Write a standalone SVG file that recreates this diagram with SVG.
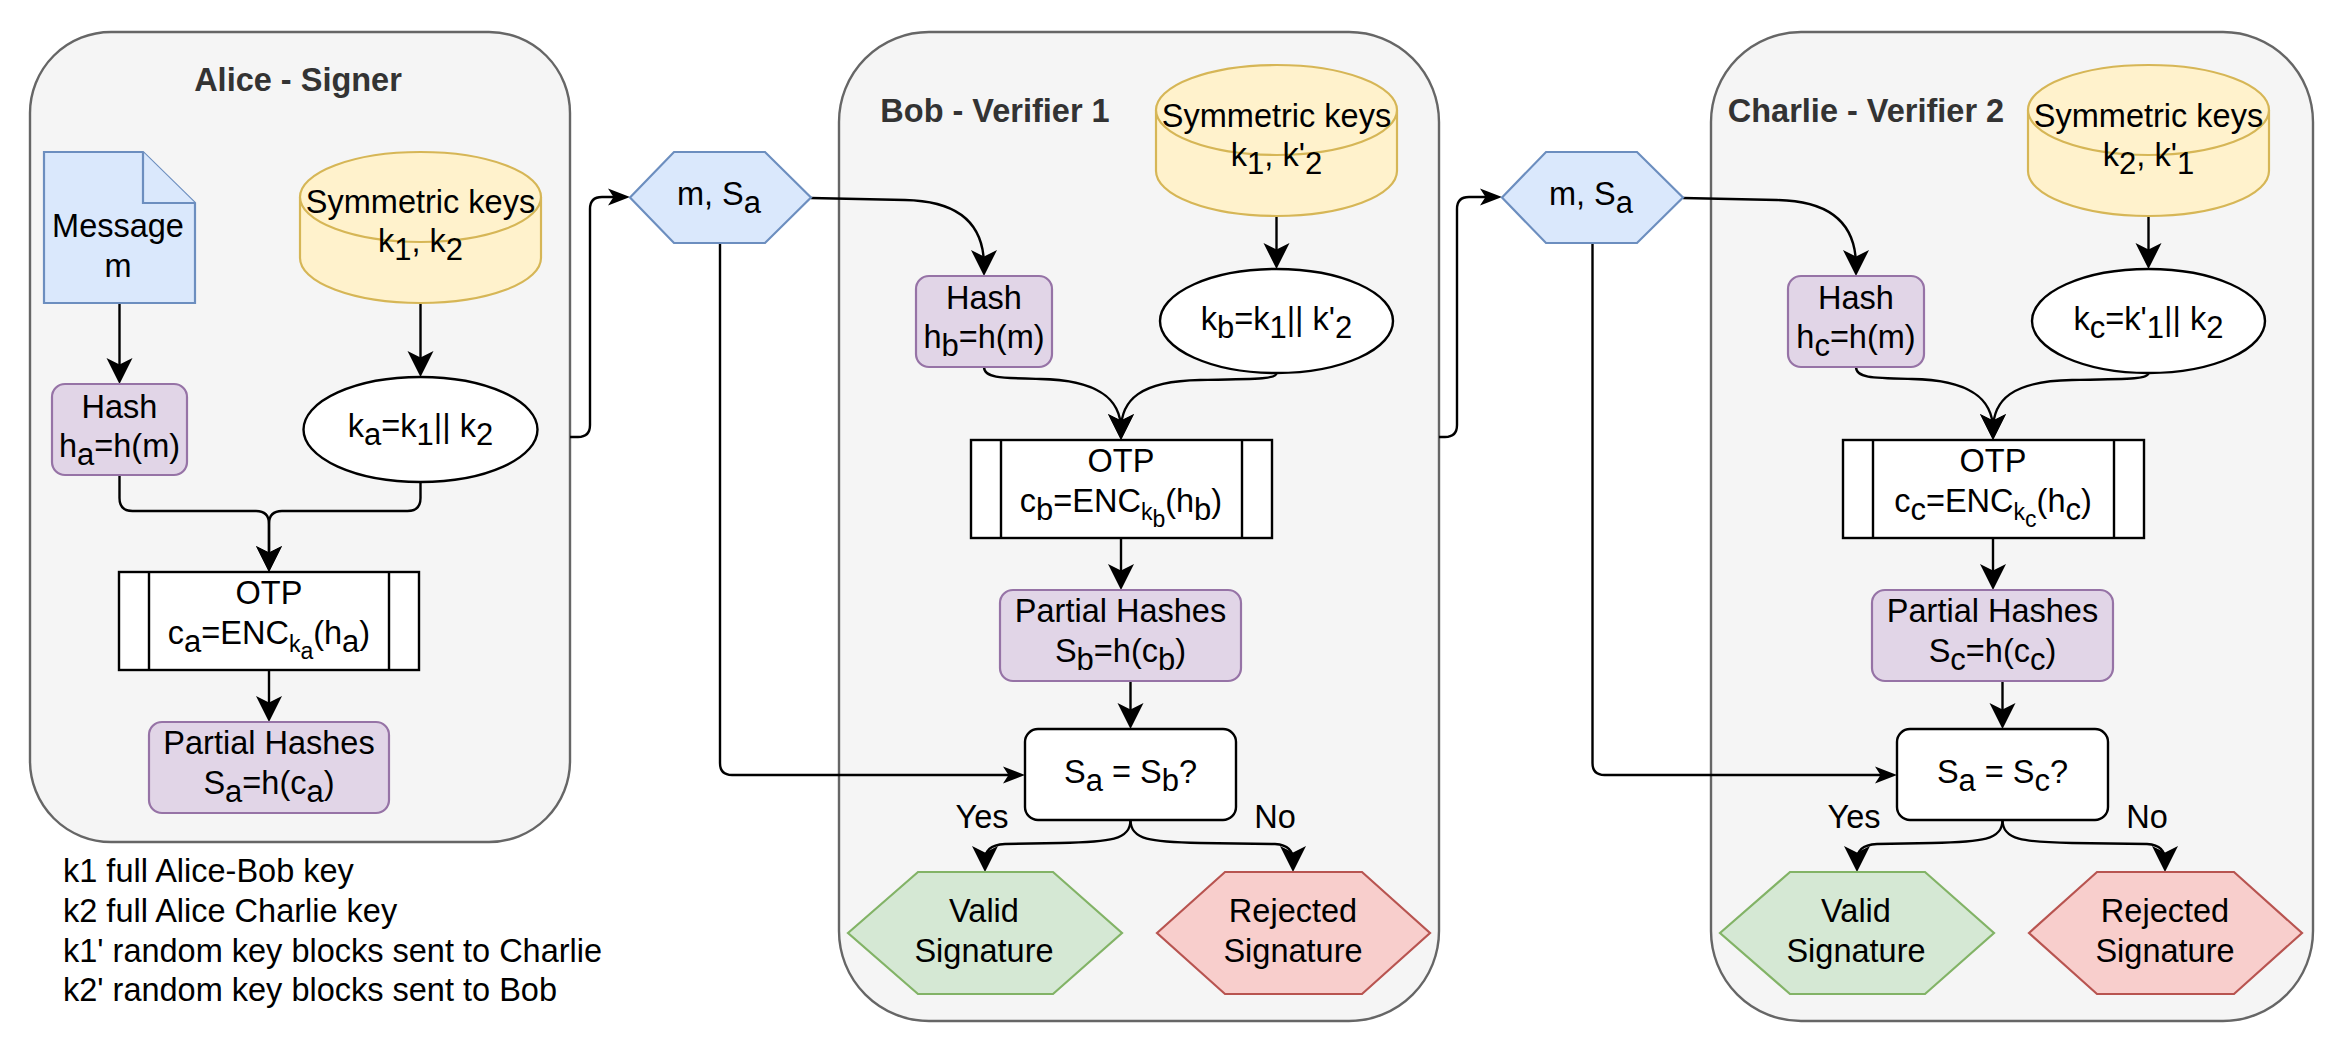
<svg xmlns="http://www.w3.org/2000/svg" width="2328" height="1044" viewBox="0 0 2328 1044">
<style>
text{font-family:"Liberation Sans",Arial,Helvetica,sans-serif;font-size:32.5px;fill:#000;text-anchor:middle}
.title{font-weight:bold;fill:#333333}
.lg{text-anchor:start}
.s{font-size:31px}
.ss{font-size:23px}
.cont{fill:#f5f5f5;stroke:#666666;stroke-width:2.4}
.blue{fill:#dae8fc;stroke:#6c8ebf;stroke-width:2.2}
.yel{fill:#fff2cc;stroke:#d6b656;stroke-width:2.2}
.pur{fill:#e1d5e7;stroke:#9673a6;stroke-width:2.2}
.wht{fill:#ffffff;stroke:#000000;stroke-width:2.4}
.grn{fill:#d5e8d4;stroke:#82b366;stroke-width:2.2}
.red{fill:#f8cecc;stroke:#b85450;stroke-width:2.2}
.e{fill:none;stroke:#000;stroke-width:2.4}
.big{marker-end:url(#ab)}
.sm{marker-end:url(#as)}
</style>
<defs>
<marker id="ab" markerUnits="userSpaceOnUse" markerWidth="40" markerHeight="40" refX="-10" refY="0" orient="auto" overflow="visible"><path d="M0,0 L-26,-13 L-19.5,0 L-26,13 Z" fill="#000"/></marker>
<marker id="as" markerUnits="userSpaceOnUse" markerWidth="40" markerHeight="40" refX="-8" refY="0" orient="auto" overflow="visible"><path d="M0,0 L-22,-8.5 L-16.5,0 L-22,8.5 Z" fill="#000"/></marker>
</defs>

<g id="alice-container">
<rect class="cont" x="30" y="32" width="540" height="810" rx="81" ry="81"/>
<text class="title" x="298" y="91">Alice - Signer</text>
</g>
<g id="bob-container">
<rect class="cont" x="839" y="32" width="600" height="989" rx="90" ry="90"/>
<text class="title" x="995" y="122">Bob - Verifier 1</text>
</g>
<g id="charlie-container">
<rect class="cont" x="1711" y="32" width="602" height="989" rx="90" ry="90"/>
<text class="title" x="1866" y="122">Charlie - Verifier 2</text>
</g>

<g id="connectors">
<path class="e big" d="M119.5,303 L119.5,374"/>
<path class="e big" d="M420.5,303 L420.5,367"/>
<path class="e big" d="M119.5,475 L119.5,498 Q119.5,511 132.5,511 L256,511 Q269,511 269,524 L269,562"/>
<path class="e big" d="M420.5,482 L420.5,498 Q420.5,511 407.5,511 L282,511 Q269,511 269,524 L269,562"/>
<path class="e big" d="M269,670 L269,712"/>
<path class="e sm" d="M570,437 L578,437 Q590,437 590,425 L590,209 Q590,197 602,197 L622,197"/>
<path class="e big" d="M811,198 L905,200 C960,201 984,225 984,266"/>
<path class="e sm" d="M720,243 L720,763 Q720,775 732,775 L1017,775"/>
<path class="e big" d="M1276.5,216 L1276.5,259"/>
<path class="e big" d="M984,367 C984,378 1000,378 1040,379 C1100,380 1121,400 1121,430"/>
<path class="e big" d="M1276.5,373 C1276.5,379 1260,379 1200,380 C1140,381 1121,400 1121,430"/>
<path class="e big" d="M1121,538 L1121,580"/>
<path class="e big" d="M1130.5,681 L1130.5,719"/>
<path class="e big" d="M1130.5,820 C1130.5,840 1110,842 1060,843 L1005,844 C990,845 985,850 985,862"/>
<path class="e big" d="M1130.5,820 C1130.5,840 1151,842 1200,843 L1275,844 C1288,845 1293,850 1293,862"/>
<path class="e sm" d="M1439,437 L1445,437 Q1457,437 1457,425 L1457,209 Q1457,197 1469,197 L1494,197"/>
<path class="e big" d="M1683,198 L1777,200 C1832,201 1856,225 1856,266"/>
<path class="e sm" d="M1592.5,243 L1592.5,763 Q1592.5,775 1604.5,775 L1889,775"/>
<path class="e big" d="M2148.5,216 L2148.5,259"/>
<path class="e big" d="M1856,367 C1856,378 1872,378 1912,379 C1972,380 1993,400 1993,430"/>
<path class="e big" d="M2148.5,373 C2148.5,379 2132,379 2072,380 C2012,381 1993,400 1993,430"/>
<path class="e big" d="M1993,538 L1993,580"/>
<path class="e big" d="M2002.5,681 L2002.5,719"/>
<path class="e big" d="M2002.5,820 C2002.5,840 1982,842 1932,843 L1877,844 C1862,845 1857,850 1857,862"/>
<path class="e big" d="M2002.5,820 C2002.5,840 2023,842 2072,843 L2147,844 C2160,845 2165,850 2165,862"/>
<text x="982" y="828">Yes</text>
<text x="1275" y="828">No</text>
<text x="1854" y="828">Yes</text>
<text x="2147" y="828">No</text>
</g>

<g id="alice-message">
<path class="blue" d="M44,152 L143,152 L195,203 L195,303 L44,303 Z"/>
<path class="blue" d="M143,152 L143,203 L195,203"/>
<text x="118" y="237">Message</text>
<text x="118" y="277">m</text>
</g>
<g id="alice-keys">
<path class="yel" d="M300,197 A120.5,45 0 0 1 541,197 L541,258 A120.5,45 0 0 1 300,258 Z"/>
<path class="yel" fill="none" d="M300,197 A120.5,45 0 0 0 541,197"/>
<text x="420.5" y="213">Symmetric keys</text>
<text x="420.5" y="252">k<tspan class="s" dy="8">1</tspan><tspan dy="-8">, k</tspan><tspan class="s" dy="8">2</tspan></text>
</g>
<g id="alice-hash">
<rect class="pur" x="52" y="384" width="135" height="91" rx="13"/>
<text x="119.5" y="418">Hash</text>
<text x="119.5" y="457">h<tspan class="s" dy="8">a</tspan><tspan dy="-8">=h(m)</tspan></text>
</g>
<g id="alice-ka">
<ellipse class="wht" cx="420.5" cy="429.5" rx="117" ry="52.5"/>
<text x="420.5" y="437">k<tspan class="s" dy="8">a</tspan><tspan dy="-8">=k</tspan><tspan class="s" dy="8">1</tspan><tspan dy="-8">|| k</tspan><tspan class="s" dy="8">2</tspan></text>
</g>
<g id="alice-otp">
<rect class="wht" x="119" y="572" width="300" height="98"/>
<path class="e" d="M149,572 L149,670 M389,572 L389,670"/>
<text x="269" y="604">OTP</text>
<text x="269" y="644">c<tspan class="s" dy="8">a</tspan><tspan dy="-8">=ENC</tspan><tspan class="ss" dy="8">k</tspan><tspan class="ss" dy="7">a</tspan><tspan dy="-15">(h</tspan><tspan class="s" dy="8">a</tspan><tspan dy="-8">)</tspan></text>
</g>
<g id="alice-partial">
<rect class="pur" x="149" y="722" width="240" height="91" rx="13"/>
<text x="269" y="754">Partial Hashes</text>
<text x="269" y="794">S<tspan class="s" dy="8">a</tspan><tspan dy="-8">=h(c</tspan><tspan class="s" dy="8">a</tspan><tspan dy="-8">)</tspan></text>
</g>

<g id="hex-bob">
<polygon class="blue" points="630,197.5 674,152 765,152 811,197.5 765,243 674,243"/>
<text x="719" y="205">m, S<tspan class="s" dy="8">a</tspan></text>
</g>
<g id="bob-keys">
<path class="yel" d="M1156,110 A120.5,45 0 0 1 1397,110 L1397,171 A120.5,45 0 0 1 1156,171 Z"/>
<path class="yel" fill="none" d="M1156,110 A120.5,45 0 0 0 1397,110"/>
<text x="1276.5" y="127">Symmetric keys</text>
<text x="1276.5" y="166">k<tspan class="s" dy="8">1</tspan><tspan dy="-8">, k'</tspan><tspan class="s" dy="8">2</tspan></text>
</g>
<g id="bob-hash">
<rect class="pur" x="916" y="276" width="136" height="91" rx="13"/>
<text x="984" y="309">Hash</text>
<text x="984" y="348">h<tspan class="s" dy="8">b</tspan><tspan dy="-8">=h(m)</tspan></text>
</g>
<g id="bob-kb">
<ellipse class="wht" cx="1276.5" cy="321" rx="116.5" ry="52"/>
<text x="1276.5" y="330">k<tspan class="s" dy="8">b</tspan><tspan dy="-8">=k</tspan><tspan class="s" dy="8">1</tspan><tspan dy="-8">|| k'</tspan><tspan class="s" dy="8">2</tspan></text>
</g>
<g id="bob-otp">
<rect class="wht" x="971" y="440" width="301" height="98"/>
<path class="e" d="M1001,440 L1001,538 M1242,440 L1242,538"/>
<text x="1121" y="472">OTP</text>
<text x="1121" y="512">c<tspan class="s" dy="8">b</tspan><tspan dy="-8">=ENC</tspan><tspan class="ss" dy="8">k</tspan><tspan class="ss" dy="7">b</tspan><tspan dy="-15">(h</tspan><tspan class="s" dy="8">b</tspan><tspan dy="-8">)</tspan></text>
</g>
<g id="bob-partial">
<rect class="pur" x="1000" y="590" width="241" height="91" rx="13"/>
<text x="1120.5" y="622">Partial Hashes</text>
<text x="1120.5" y="662">S<tspan class="s" dy="8">b</tspan><tspan dy="-8">=h(c</tspan><tspan class="s" dy="8">b</tspan><tspan dy="-8">)</tspan></text>
</g>
<g id="bob-decision">
<rect class="wht" x="1025" y="729" width="211" height="91" rx="13"/>
<text x="1130.5" y="783">S<tspan class="s" dy="8">a</tspan><tspan dy="-8"> = S</tspan><tspan class="s" dy="8">b</tspan><tspan dy="-8">?</tspan></text>
</g>
<g id="bob-valid">
<polygon class="grn" points="848,933 918,872 1053,872 1122,933 1053,994 918,994"/>
<text x="984" y="922">Valid</text>
<text x="984" y="962">Signature</text>
</g>
<g id="bob-rejected">
<polygon class="red" points="1157,933 1225,872 1362,872 1430,933 1362,994 1225,994"/>
<text x="1293" y="922">Rejected</text>
<text x="1293" y="962">Signature</text>
</g>

<g id="hex-charlie">
<polygon class="blue" points="1502,197.5 1546,152 1637,152 1683,197.5 1637,243 1546,243"/>
<text x="1591" y="205">m, S<tspan class="s" dy="8">a</tspan></text>
</g>
<g id="charlie-keys">
<path class="yel" d="M2028,110 A120.5,45 0 0 1 2269,110 L2269,171 A120.5,45 0 0 1 2028,171 Z"/>
<path class="yel" fill="none" d="M2028,110 A120.5,45 0 0 0 2269,110"/>
<text x="2148.5" y="127">Symmetric keys</text>
<text x="2148.5" y="166">k<tspan class="s" dy="8">2</tspan><tspan dy="-8">, k'</tspan><tspan class="s" dy="8">1</tspan></text>
</g>
<g id="charlie-hash">
<rect class="pur" x="1788" y="276" width="136" height="91" rx="13"/>
<text x="1856" y="309">Hash</text>
<text x="1856" y="348">h<tspan class="s" dy="8">c</tspan><tspan dy="-8">=h(m)</tspan></text>
</g>
<g id="charlie-kc">
<ellipse class="wht" cx="2148.5" cy="321" rx="116.5" ry="52"/>
<text x="2148.5" y="330">k<tspan class="s" dy="8">c</tspan><tspan dy="-8">=k'</tspan><tspan class="s" dy="8">1</tspan><tspan dy="-8">|| k</tspan><tspan class="s" dy="8">2</tspan></text>
</g>
<g id="charlie-otp">
<rect class="wht" x="1843" y="440" width="301" height="98"/>
<path class="e" d="M1873,440 L1873,538 M2114,440 L2114,538"/>
<text x="1993" y="472">OTP</text>
<text x="1993" y="512">c<tspan class="s" dy="8">c</tspan><tspan dy="-8">=ENC</tspan><tspan class="ss" dy="8">k</tspan><tspan class="ss" dy="7">c</tspan><tspan dy="-15">(h</tspan><tspan class="s" dy="8">c</tspan><tspan dy="-8">)</tspan></text>
</g>
<g id="charlie-partial">
<rect class="pur" x="1872" y="590" width="241" height="91" rx="13"/>
<text x="1992.5" y="622">Partial Hashes</text>
<text x="1992.5" y="662">S<tspan class="s" dy="8">c</tspan><tspan dy="-8">=h(c</tspan><tspan class="s" dy="8">c</tspan><tspan dy="-8">)</tspan></text>
</g>
<g id="charlie-decision">
<rect class="wht" x="1897" y="729" width="211" height="91" rx="13"/>
<text x="2002.5" y="783">S<tspan class="s" dy="8">a</tspan><tspan dy="-8"> = S</tspan><tspan class="s" dy="8">c</tspan><tspan dy="-8">?</tspan></text>
</g>
<g id="charlie-valid">
<polygon class="grn" points="1720,933 1790,872 1925,872 1994,933 1925,994 1790,994"/>
<text x="1856" y="922">Valid</text>
<text x="1856" y="962">Signature</text>
</g>
<g id="charlie-rejected">
<polygon class="red" points="2029,933 2097,872 2234,872 2302,933 2234,994 2097,994"/>
<text x="2165" y="922">Rejected</text>
<text x="2165" y="962">Signature</text>
</g>

<g id="legend">
<text class="lg" x="63" y="882">k1 full Alice-Bob key</text>
<text class="lg" x="63" y="922">k2 full Alice Charlie key</text>
<text class="lg" x="63" y="962">k1' random key blocks sent to Charlie</text>
<text class="lg" x="63" y="1001">k2' random key blocks sent to Bob</text>
</g>
</svg>
